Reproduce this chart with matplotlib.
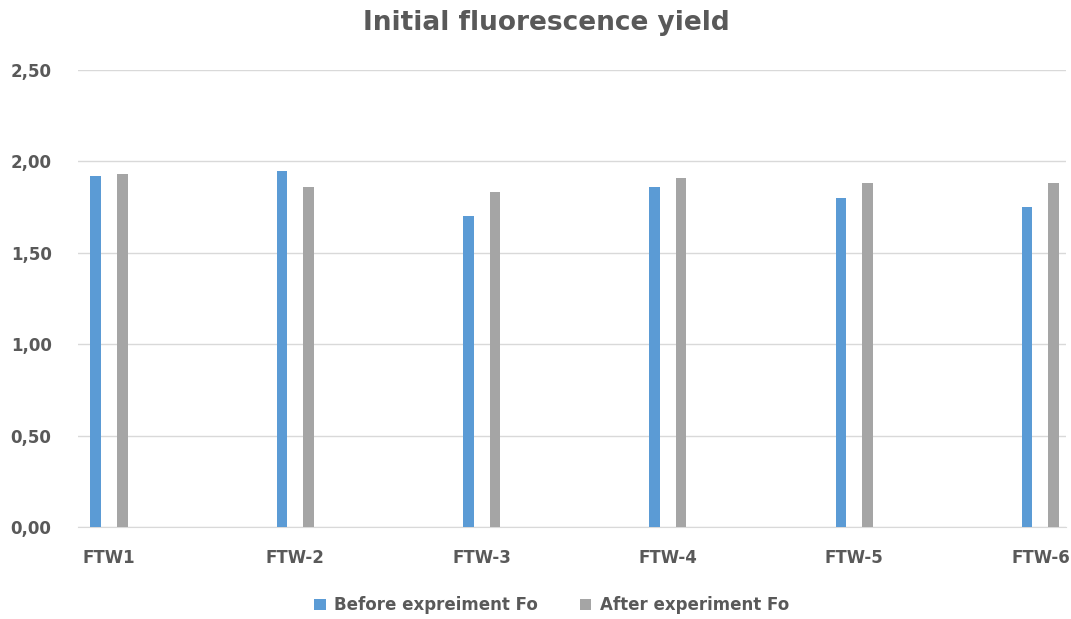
import matplotlib
matplotlib.use("Agg")
import matplotlib.pyplot as plt
import numpy as np
from matplotlib.ticker import FuncFormatter, MultipleLocator

categories = ["FTW1", "FTW-2", "FTW-3", "FTW-4", "FTW-5", "FTW-6"]
before = [1.92, 1.95, 1.70, 1.86, 1.80, 1.75]
after = [1.93, 1.86, 1.83, 1.91, 1.88, 1.88]
series_names = ["Before expreiment Fo", "After experiment Fo"]

BLUE = "#5B9BD5"
GRAY = "#A5A5A5"
TXT = "#595959"

plt.rcParams['font.family'] = ['DejaVu Sans']

fig = plt.figure(figsize=(10.71, 6.19), dpi=100)
ax = fig.add_axes([0.0728, 0.1486, 0.9225, 0.7383])

x = np.arange(len(categories))
w = 0.057
off = 0.0715
ax.bar(x - off, before, width=w, color=BLUE, label=series_names[0], zorder=3)
ax.bar(x + off, after, width=w, color=GRAY, label=series_names[1], zorder=3)

ax.set_xlim(-0.166, 5.137)
ax.set_ylim(0, 2.5)
ax.yaxis.set_major_locator(MultipleLocator(0.5))
ax.yaxis.set_major_formatter(FuncFormatter(lambda v, p: f"{v:.2f}".replace(".", ",")))
ax.set_xticks(x)
ax.set_xticklabels(categories)
ax.grid(axis="y", color="#D9D9D9", linewidth=1, zorder=0)
for s in ["top", "right", "left"]:
    ax.spines[s].set_visible(False)
ax.spines["bottom"].set_color("#D9D9D9")
ax.tick_params(axis="both", length=0, labelsize=12, labelcolor=TXT)
ax.tick_params(axis="y", pad=19)
ax.tick_params(axis="x", pad=16)
for lab in ax.get_xticklabels() + ax.get_yticklabels():
    lab.set_fontweight("bold")

fig.text(0.51, 0.963, "Initial fluorescence yield", ha="center", va="center",
         fontsize=19, fontweight="bold", color=TXT)

leg = fig.legend(loc="center", bbox_to_anchor=(0.515, 0.022), ncol=2, frameon=False,
                 handlelength=0.7, handleheight=0.7, columnspacing=2.5, handletextpad=0.5,
                 prop={"size": 12, "weight": "bold"})
for t in leg.get_texts():
    t.set_color(TXT)

fig.savefig("out.png", dpi=100)
